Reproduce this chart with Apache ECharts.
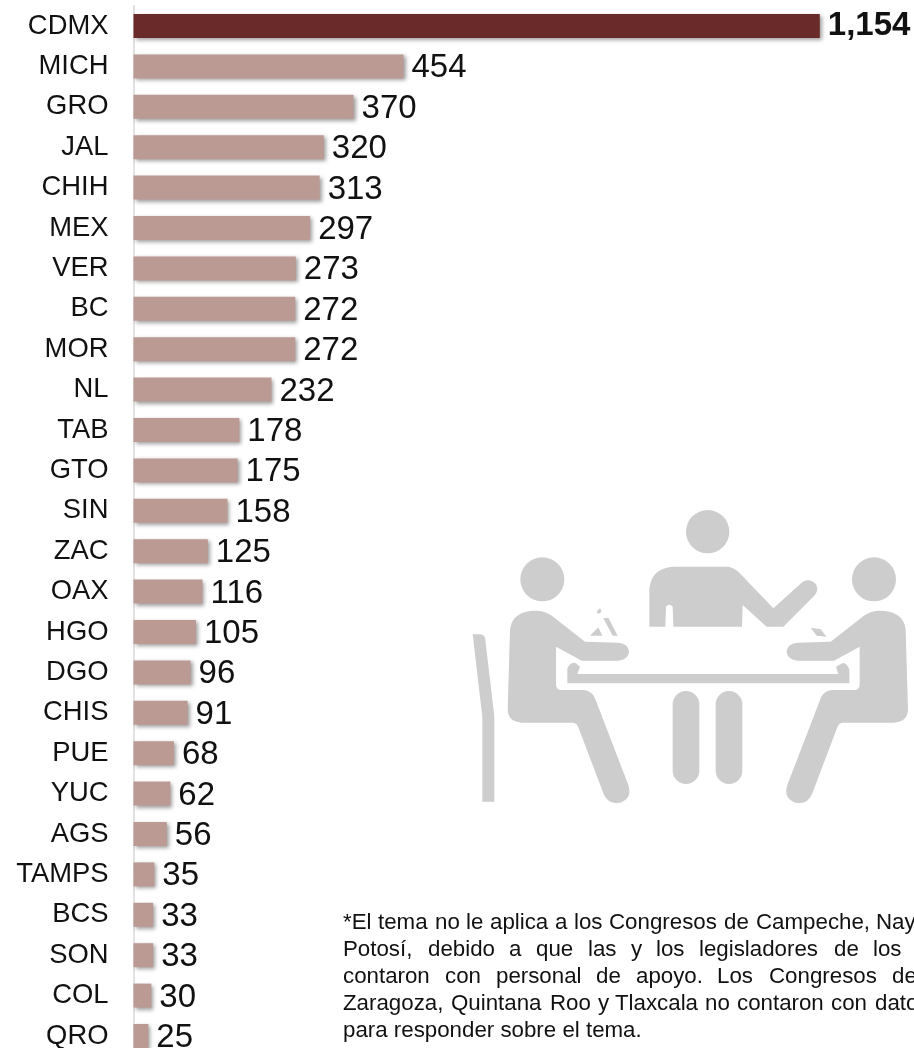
<!DOCTYPE html>
<html><head><meta charset="utf-8">
<style>html,body{margin:0;padding:0;background:#fff;overflow:hidden}#c{width:914px;height:1048px}</style>
<script src="https://cdn.jsdelivr.net/npm/echarts@6/dist/echarts.min.js"></script>
</head><body><div id="c"></div>
<script>
const categories = ['CDMX','MICH','GRO','JAL','CHIH','MEX','VER','BC','MOR','NL','TAB','GTO','SIN','ZAC','OAX','HGO','DGO','CHIS','PUE','YUC','AGS','TAMPS','BCS','SON','COL','QRO'];
const values = [1154,454,370,320,313,297,273,272,272,232,178,175,158,125,116,105,96,91,68,62,56,35,33,33,30,25];
const FONT = '"Liberation Sans", Arial, sans-serif';
const DARK = '#6B2A2A', LIGHT = '#BB9A93', ICON = '#CDCDCD';
const noteLines = [
  [[343,'*El'],[378,'tema'],[435,'no'],[466,'le'],[490,'aplica'],[555,'a'],[574,'los'],[609,'Congresos'],[724,'de'],[756,'Campeche,'],[876,'Nay']],
  [[343,'Potosí,'],[428,'debido'],[509,'a'],[536,'que'],[588,'las'],[631,'y'],[656,'los'],[699,'legisladores'],[834,'de'],[873,'los']],
  [[343,'contaron'],[445,'con'],[496,'personal'],[596,'de'],[636,'apoyo.'],[717,'Los'],[769,'Congresos'],[892,'de']],
  [[343,'Zaragoza,'],[451,'Quintana'],[550,'Roo'],[598,'y'],[615,'Tlaxcala'],[705,'no'],[737,'contaron'],[831,'con'],[875,'datos']],
  [[343,'para responder sobre el tema.']]
];
const note = [];
noteLines.forEach((l,i)=>l.forEach(w=>note.push({type:'text',x:w[0],y:923+27*i,silent:true,
  style:{text:w[1],font:'22.3px '+FONT,fill:'#111',verticalAlign:'middle'}})));
const person = 'M150 420Q155 365 225 362Q260 362 285 385L375 455L475 458Q505 462 507 485Q505 508 475 512L365 512L288 470L288 585Q290 600 305 600L370 600Q395 602 405 625L505 885Q518 925 480 938Q445 945 430 910L355 712Q350 698 335 698L185 698Q145 695 143 660Z';
function toPoints(d){
  const pts=[]; const re=/([MLQZ])([^MLQZ]*)/g; let m;
  while((m=re.exec(d))){
    const n=m[2].trim().split(/\s+/).map(Number);
    if(m[1]==='M'||m[1]==='L') pts.push([n[0],n[1]]);
    else if(m[1]==='Q'){
      const p=pts[pts.length-1];
      for(let k=1;k<=10;k++){const t=k/10,u=1-t;
        pts.push([u*u*p[0]+2*u*t*n[0]+t*t*n[2],u*u*p[1]+2*u*t*n[1]+t*t*n[3]]);}
    }
  }
  return pts;
}
function path(d){return {type:'polygon',shape:{points:toPoints(d)},style:{fill:ICON},silent:true};}
function circ(cx,cy,r){return {type:'circle',shape:{cx,cy,r},style:{fill:ICON},silent:true};}
function leg(x){return {type:'rect',shape:{x,y:603,width:80,height:279,r:40},style:{fill:ICON},silent:true};}
const icon = {type:'group',x:460,y:490,scaleX:1/3,scaleY:1/3,silent:true,children:[
  circ(247,268,66),circ(743,125,65),circ(1242,268,66),
  path('M38 433L62 433Q75 435 76 450L103 680L103 935L67 935L67 680Z'),
  path(person),
  path('M568 410L568 300Q572 235 640 230L800 230Q822 232 838 248L940 355L1025 278Q1045 262 1065 280Q1080 298 1062 318L970 410L920 410L848 345L846 410L640 410L638 350Q628 338 618 350L616 410Z'),
  path('M322 580L322 535Q330 518 345 518L360 530L352 552L1135 552L1128 530L1150 518Q1165 525 1168 540L1168 580Z'),
  leg(638),leg(767),
  path('M390 437L415 412L427 437Z'),path('M430 385L445 383L473 437L458 437Z'),path('M410 365L420 355L425 365L415 372Z'),
  path('M1052 413L1082 418L1100 440L1070 437Z')
]};
const iconR = {type:'group',x:460+1487/3,y:490,scaleX:-1/3,scaleY:1/3,silent:true,children:[path(person)]};

const chart = echarts.init(document.getElementById('c'),null,{renderer:'canvas'});
chart.setOption({
  animation:false,
  backgroundColor:'#fff',
  grid:{left:133.5,top:5.8,width:832.6,height:1050.4,containLabel:false,outerBoundsMode:'none'},
  xAxis:{type:'value',min:0,max:1400,show:false},
  yAxis:{type:'category',inverse:true,data:categories,
    axisLine:{show:true,lineStyle:{color:'#E2E2E2',width:2}},axisTick:{show:false},
    axisLabel:{color:'#111',fontFamily:FONT,fontSize:27.4,margin:25,interval:0}},
  series:[{type:'bar',barWidth:24,
    data:values.map((v,i)=>({value:v,
      itemStyle:{color:i===0?DARK:LIGHT},
      label:i===0?{fontWeight:'bold',offset:[0,0]}:{}})),
    itemStyle:{shadowColor:'rgba(0,0,0,0.38)',shadowBlur:4,shadowOffsetX:2,shadowOffsetY:2},
    label:{show:true,position:'right',distance:8,offset:[0,2],color:'#111',fontFamily:FONT,fontSize:33,
      formatter:p=>p.value.toLocaleString('en-US')}}],
  graphic:[icon,iconR].concat(note)
});
</script></body></html>
